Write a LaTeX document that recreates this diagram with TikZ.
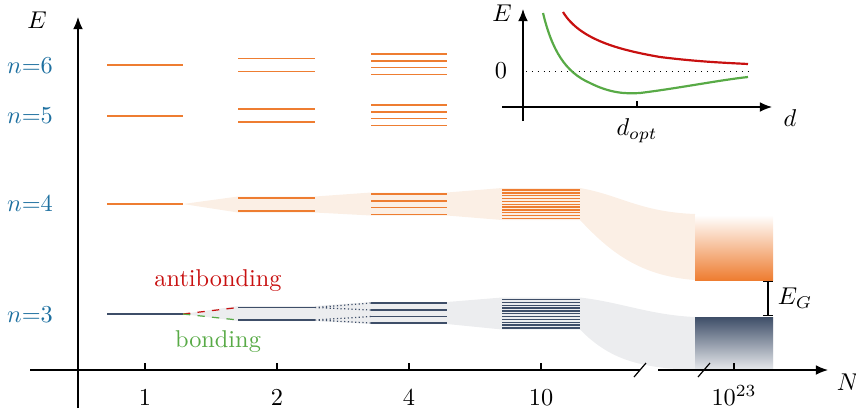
\documentclass[tikz,border=0pt]{standalone}
\usetikzlibrary{arrows.meta}
\definecolor{lvlorange}{RGB}{238,125,49}
\definecolor{lvlslate}{RGB}{62,78,104}
\definecolor{nblue}{RGB}{30,112,160}
\definecolor{abred}{RGB}{200,16,16}
\definecolor{bgreen}{RGB}{88,170,70}
\definecolor{bandorange}{RGB}{251,239,229}
\definecolor{bandgray}{RGB}{236,237,239}
\tikzset{
  olvl/.style={lvlorange, line width=0.55pt},
  slvl/.style={lvlslate, line width=0.55pt},
  axis/.style={black, line width=0.5pt},
  nlab/.style={nblue, anchor=center},
}
\begin{document}
\begin{tikzpicture}[x=0.4114pt,y=-0.4114pt]
\useasboundingbox (0,0) rectangle (856,413);
% bands
\fill[bandorange] (183,204) -- (238,196.5) -- (315,196.5) -- (371,192.5) -- (447,192.5) -- (502,188) -- (580,188)
  .. controls (620,195) and (640,212) .. (695,214) -- (695,280)
  .. controls (640,276) and (610,252) .. (580,220) -- (502,220) -- (447,215.5) -- (371,215.5) -- (315,212.5) -- (238,212.5) -- cycle;
\fill[bandgray] (183,314) -- (238,306) -- (315,306) -- (371,302) -- (447,302) -- (502,297.5) -- (580,297.5)
  .. controls (620,302) and (650,315) .. (695,317) -- (773,317) -- (773,370) -- (695,370)
  .. controls (640,368) and (610,360) .. (580,329.5) -- (502,329.5) -- (447,324) -- (371,324) -- (315,321) -- (238,321) -- cycle;
% blocks
\shade[top color=white, bottom color=lvlorange] (695,215) rectangle (773,280);
\shade[top color=lvlslate, bottom color=lvlslate!12] (695,317) rectangle (773,370);
% axes
\draw[axis, -{Latex[length=5pt,width=4pt]}] (78,408) -- (78,17) coordinate (etop);
\node (elab) at (37,20) {$E$};
\draw[axis] (30,370) -- (640,370);
\draw[axis, -{Latex[length=5pt,width=4pt]}] (658,370) -- (828,370);
\draw[axis] (634,377) -- (646,363);
\draw[axis] (698,377) -- (710,363);
\node (nlab) at (848,382) {$N$};
\foreach \x/\t in {145/1,277/2,409/4,541/10,734/10^{23}}{
  \draw[axis] (\x,370) -- (\x,363);
  \node[anchor=base] at (\x,405) {$\t$};
}
% n labels
\node[nlab] (n6) at (30,66) {$n{=}6$};
\node[nlab] (n5) at (30,116) {$n{=}5$};
\node[nlab] (n4) at (30,204) {$n{=}4$};
\node[nlab] (n3) at (30,315) {$n{=}3$};
% column 1
\foreach \y in {65,116,204}{\draw[olvl] (107,\y) -- (183,\y);}
\draw[slvl] (107,314) -- (183,314);
% column 2
\foreach \y in {58.5,71.5,109,122,198,211}{\draw[olvl] (238,\y) -- (315,\y);}
\foreach \y in {307.5,320}{\draw[slvl] (238,\y) -- (315,\y);}
% column 3
\foreach \b in {54,105,194}{
  \foreach \d in {0,7,13.5,20.5}{\draw[olvl] (371,\b+\d) -- (447,\b+\d);}
}
\foreach \y in {303,310,316.5,323}{\draw[slvl] (371,\y) -- (447,\y);}
% column 4
\foreach \i in {0,...,10}{
  \draw[olvl] (502,190+\i*2.85) -- (580,190+\i*2.85);
  \draw[slvl] (502,299.5+\i*2.85) -- (580,299.5+\i*2.85);
}
% splitting
\draw[abred, dashed, line width=0.5pt] (183,314) -- (238,307.5);
\draw[bgreen, dashed, line width=0.5pt] (183,314) -- (238,320);
\draw[lvlslate, densely dotted, line width=0.5pt] (315,307.5) -- (371,303) (315,307.5) -- (371,310)
  (315,320) -- (371,316.5) (315,320) -- (371,323);
\node[abred] (ab) at (218,281) {antibonding};
\node[bgreen] (bd) at (218,342) {bonding};
% gap
\draw[axis, {Bar[width=4pt]}-{Bar[width=4pt]}] (768,281) -- (768,316);
\node (eg) at (795,298) {$E_G$};
% inset
\draw[axis, -{Latex[length=5pt,width=4pt]}] (523,121) -- (523,9);
\draw[axis, -{Latex[length=5pt,width=4pt]}] (502,107) -- (772,107);
\node (ie) at (502,13) {$E$};
\node (i0) at (501,71) {$0$};
\node (id) at (790,118) {$d$};
\draw[axis] (637,107) -- (637,101);
\node (idopt) at (637,131) {$d_{opt}$};
\draw[black, dotted, line width=0.4pt] (526,71) -- (748,71);
\draw[abred, line width=0.9pt] (563,12) .. controls (580,40) and (620,50) .. (660,57) .. controls (700,62) and (730,63) .. (748,64);
\draw[bgreen, line width=0.9pt] (543,13) .. controls (552,50) and (565,72) .. (590,83) .. controls (610,93) and (625,94) .. (640,93) .. controls (680,88) and (720,80) .. (748,77);
\end{tikzpicture}
\end{document}
